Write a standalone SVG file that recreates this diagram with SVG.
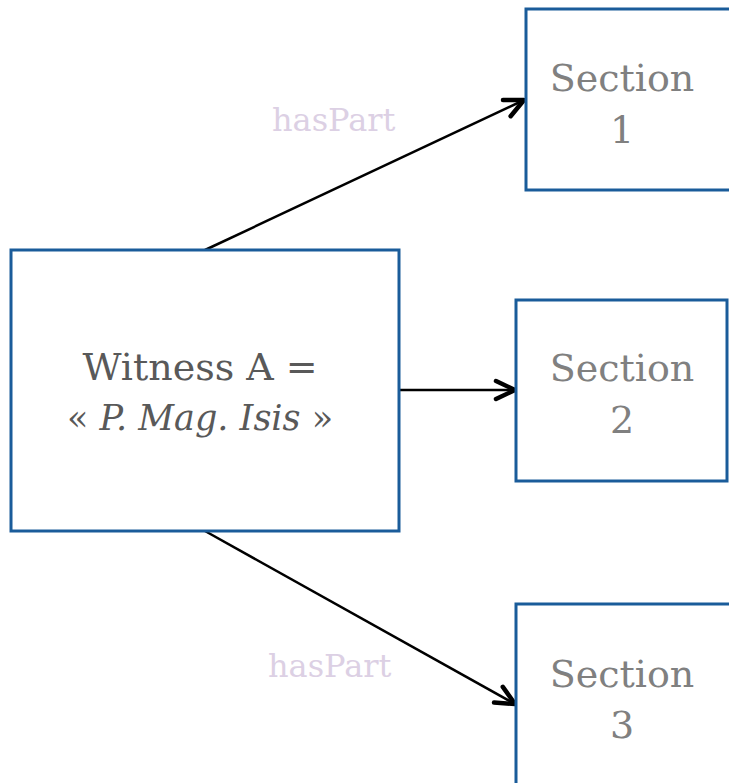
<svg xmlns="http://www.w3.org/2000/svg" width="729" height="783" viewBox="0 0 729 783">
<style>
.box{fill:#fff;stroke:#1A5C9A;stroke-width:3}
.t{font-family:"DejaVu Serif","Liberation Serif",serif;font-size:38px;text-anchor:middle}
.w{fill:#595959}
.s{fill:#808080}
.lbl{font-family:"DejaVu Serif","Liberation Serif",serif;font-size:32px;fill:#DCD0E4}
.c{fill:none;stroke:#000;stroke-width:2.5}
</style>
<defs>
<marker id="arr" markerUnits="userSpaceOnUse" markerWidth="30" markerHeight="30" refX="22" refY="12" orient="auto" viewBox="0 0 30 24">
<path d="M3,3 L22,12 L3,21" fill="none" stroke="#000" stroke-width="4.5" stroke-linecap="round" stroke-linejoin="round"/>
</marker>
</defs>
<g id="connectors">
<line class="c" x1="205" y1="250" x2="524" y2="100" marker-end="url(#arr)"/>
<line class="c" x1="399" y1="390" x2="515" y2="390" marker-end="url(#arr)"/>
<line class="c" x1="205" y1="531" x2="515" y2="704" marker-end="url(#arr)"/>
<text class="lbl" x="272" y="131">hasPart</text>
<text class="lbl" x="268" y="677">hasPart</text>
</g>
<g id="witness">
<rect class="box" x="11" y="250" width="388" height="281"/>
<text class="t w" x="200" y="380">Witness A =</text>
<text class="t w" x="200" y="430" style="font-size:35px">« <tspan font-style="italic">P. Mag. Isis</tspan> »</text>
</g>
<g id="section1">
<rect class="box" x="526" y="9" width="210" height="181"/>
<text class="t s" x="622" y="91">Section</text>
<text class="t s" x="622" y="143">1</text>
</g>
<g id="section2">
<rect class="box" x="516" y="300" width="211" height="181"/>
<text class="t s" x="622" y="381">Section</text>
<text class="t s" x="622" y="433">2</text>
</g>
<g id="section3">
<rect class="box" x="516" y="604" width="220" height="190"/>
<text class="t s" x="622" y="687">Section</text>
<text class="t s" x="622" y="738">3</text>
</g>
</svg>
